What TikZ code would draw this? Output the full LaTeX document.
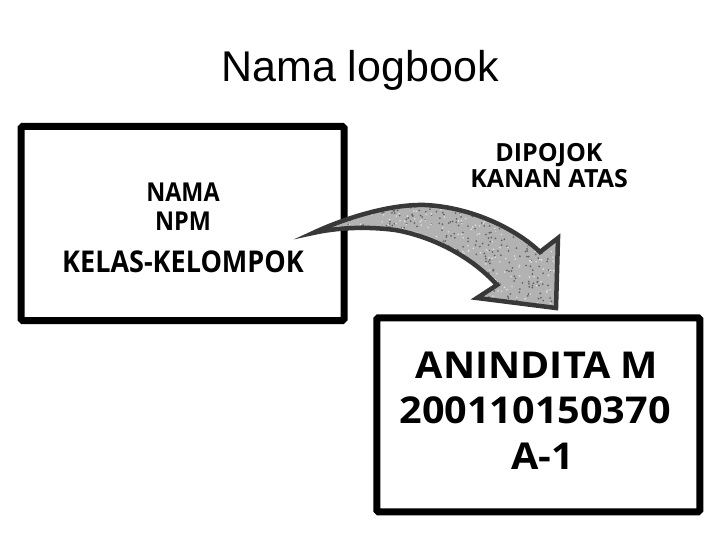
\documentclass[tikz,border=0pt]{standalone}
\usepackage{fontspec}
\setmainfont{Liberation Sans}
\newfontfamily\boxfont[FakeStretch=0.9]{Open Sans}
\newfontfamily\notefont{Open Sans}
\newfontfamily\widefont[FakeStretch=1.07]{Open Sans}
\usetikzlibrary{positioning}

\begin{document}
\begin{tikzpicture}[
      x=1pt, y=-1pt,
      frame/.style={draw=black, line width=7pt, rounded corners=1.5pt,
        minimum width=323pt, minimum height=194pt, inner sep=0pt},
      smalltext/.style={font=\boxfont\bfseries\fontsize{26}{30}\selectfont,
        inner sep=0pt, anchor=base},
      bigtext/.style={font=\boxfont\bfseries\fontsize{30}{36}\selectfont,
        inner sep=0pt, anchor=base},
      notetext/.style={font=\notefont\bfseries\fontsize{25}{30}\selectfont,
        inner sep=0pt, anchor=base},
      valuetext/.style={font=\widefont\bfseries\fontsize{37}{44}\selectfont,
        inner sep=0pt, anchor=base},
      titletext/.style={font=\fontsize{43}{50}\selectfont, inner sep=0pt,
        anchor=base}
    ]
    \useasboundingbox (0,0) rectangle (720,540);

    \node[titletext] (title) at (360,82) {Nama logbook};

    \node[frame] (namebox) at (182.5,223.5) {};
    \node[frame] (cornerbox) at (538.25,414.75) {};

    \node[smalltext] (nama) at (183,202) {NAMA};
    \node[smalltext] (npm) at (183,230) {NPM};
    \node[bigtext] (kelas) at (183,272) {KELAS-KELOMPOK};

    \node[notetext] (dipojok) at (549,162) {DIPOJOK};
    \node[notetext] (kanan) at (549,188) {KANAN ATAS};

    \node[valuetext] (anindita) at (537,378) {ANINDITA M};
    \node[valuetext] (npmvalue) at (535,423) {200110150370};
    \node[valuetext] (kelasvalue) at (543,469) {A-1};

    % bent arrow with a speckled fill
    \path[save path=\bentarrow]
      (313,233) .. controls (345,218) and (390,204) .. (425,205)
      .. controls (470,207) and (515,228) .. (540,252)
      -- (558,238) -- (556,308) -- (477,298) -- (497,285)
      .. controls (470,255) and (430,236) .. (395,230)
      .. controls (365,226) and (335,228) .. (313,233) -- cycle;
    \begin{scope}
      \clip[use path=\bentarrow];
      \fill[black!30] (300,195) rectangle (565,315);
      \pgfmathsetseed{7}
      \foreach \i in {1,...,700}
        \fill[black!60] (305+255*rnd,198+115*rnd) circle (1);
      \foreach \i in {1,...,500}
        \fill[white!88!black] (305+255*rnd,198+115*rnd) circle (0.9);
    \end{scope}
    \draw[use path=\bentarrow, draw=black!78, line width=4.5pt];
\end{tikzpicture}
\end{document}
